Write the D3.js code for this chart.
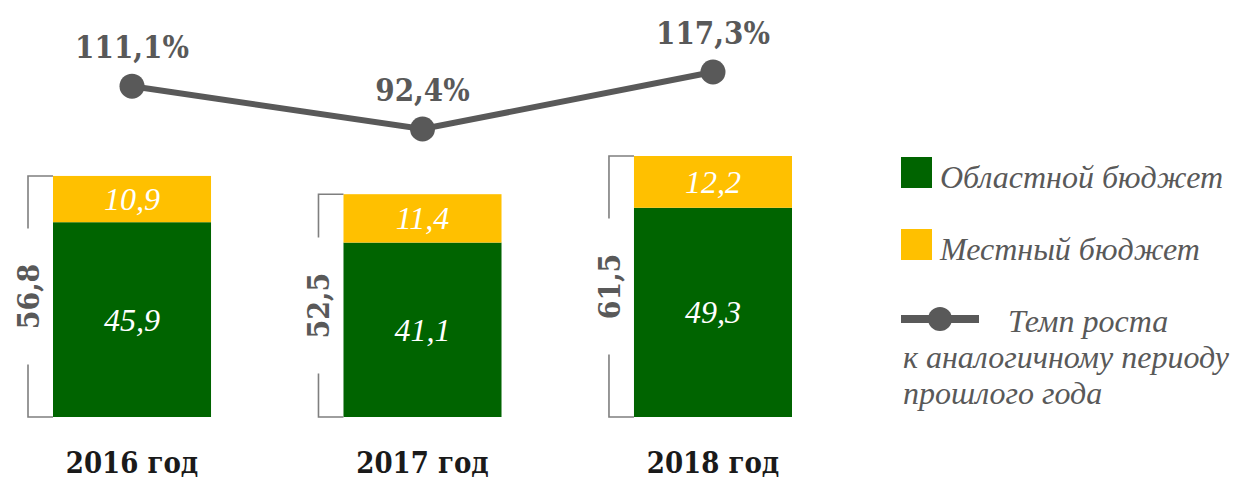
<!DOCTYPE html>
<html>
<head>
<meta charset="utf-8">
<script src="https://cdn.jsdelivr.net/npm/d3@7"></script>
<style>
	body { margin: 0; background: #fff; }
	svg { display: block; }
</style>
</head>
<body>
<div class="container"></div>
<script>

let years = ['2016 год', '2017 год', '2018 год']
let regional = [45.9, 41.1, 49.3]
let local = [10.9, 11.4, 12.2]
let totals = [56.8, 52.5, 61.5]
let growth = [111.1, 92.4, 117.3]
let growthLabels = ['111,1%', '92,4%', '117,3%']
let legendNames = ['Областной бюджет', 'Местный бюджет']
let legendLine = ['Темп роста', 'к аналогичному периоду', 'прошлого года']

let green = '#006400'
let yellow = '#ffc000'
let gray = '#595959'

let fmt = v => String(v).replace('.', ',')

let svg = d3.select('.container')
	.append('svg')
	.attr('width', 1240)
	.attr('height', 480)

let x = d3.scaleBand()
	.domain(years)
	.range([53, 792])
	.paddingInner(0.456)
	.paddingOuter(0)

let y = d3.scaleLinear()
	.domain([0, 61.5])
	.range([417, 156])

let yRate = d3.scaleLinear()
	.domain([92.4, 117.3])
	.range([129, 72])

let bw = x.bandwidth()

// stacked bars
years.forEach(function(yr, i) {
	let x0 = x(yr)
	svg.append('rect')
		.attr('x', x0)
		.attr('y', y(regional[i]))
		.attr('width', bw)
		.attr('height', y(0) - y(regional[i]))
		.style('fill', green)

	svg.append('rect')
		.attr('x', x0)
		.attr('y', y(totals[i]))
		.attr('width', bw)
		.attr('height', y(regional[i]) - y(totals[i]))
		.style('fill', yellow)

	svg.append('text')
		.attr('x', x0 + bw / 2)
		.attr('y', (y(0) + y(regional[i])) / 2 + 11)
		.attr('text-anchor', 'middle')
		.attr('class', 'inbar')
		.text(fmt(regional[i]))

	svg.append('text')
		.attr('x', x0 + bw / 2)
		.attr('y', (y(regional[i]) + y(totals[i])) / 2 + 11)
		.attr('text-anchor', 'middle')
		.attr('class', 'inbar')
		.text(fmt(local[i]))

	// bracket with total
	let bx = x0 - 25
	let top = y(totals[i])
	let bottom = y(0)
	let mid = (top + bottom) / 2
	let gap = 68
	svg.append('path')
		.attr('d', `M${x0},${top}H${bx}V${mid - gap}M${bx},${mid + gap}V${bottom}H${x0}`)
		.style('fill', 'none')
		.style('stroke', '#7f7f7f')
		.style('stroke-width', 1.6)

	svg.append('text')
		.attr('transform', `translate(${bx},${mid}) rotate(-90)`)
		.attr('text-anchor', 'middle')
		.attr('dy', '0.36em')
		.attr('class', 'total')
		.text(fmt(totals[i]))

	svg.append('text')
		.attr('x', x0 + bw / 2)
		.attr('y', 473)
		.attr('text-anchor', 'middle')
		.attr('class', 'year')
		.text(yr)
})

// growth line
let pts = years.map((yr, i) => [x(yr) + bw / 2, yRate(growth[i])])

svg.append('path')
	.attr('d', d3.line()(pts))
	.style('fill', 'none')
	.style('stroke', gray)
	.style('stroke-width', 6)

pts.forEach(function(p, i) {
	svg.append('circle')
		.attr('cx', p[0])
		.attr('cy', p[1])
		.attr('r', 12.5)
		.style('fill', gray)

	svg.append('text')
		.attr('x', p[0])
		.attr('y', p[1] - 28)
		.attr('text-anchor', 'middle')
		.attr('class', 'rate')
		.text(growthLabels[i])
})

// legend
let legColors = [green, yellow]
let legY = [188, 260]
legendNames.forEach(function(name, i) {
	svg.append('rect')
		.attr('x', 901)
		.attr('y', legY[i] - 31)
		.attr('width', 31)
		.attr('height', 31)
		.style('fill', legColors[i])

	svg.append('text')
		.attr('x', 940)
		.attr('y', legY[i])
		.attr('class', 'legend')
		.text(name)
})

svg.append('line')
	.attr('x1', 901)
	.attr('x2', 979)
	.attr('y1', 319)
	.attr('y2', 319)
	.style('stroke', gray)
	.style('stroke-width', 8)

svg.append('circle')
	.attr('cx', 940)
	.attr('cy', 319)
	.attr('r', 12)
	.style('fill', gray)

svg.append('text')
	.attr('x', 1008)
	.attr('y', 332)
	.attr('class', 'legend')
	.text(legendLine[0])

svg.append('text')
	.attr('x', 903)
	.attr('y', 368)
	.attr('class', 'legend')
	.text(legendLine[1])

svg.append('text')
	.attr('x', 903)
	.attr('y', 404)
	.attr('class', 'legend')
	.text(legendLine[2])

d3.selectAll('.inbar')
	.style('fill', '#fff')
	.style('font-family', '"Liberation Serif", serif')
	.style('font-style', 'italic')
	.style('font-size', '32px')

d3.selectAll('.legend')
	.style('fill', gray)
	.style('font-family', '"Liberation Serif", serif')
	.style('font-style', 'italic')
	.style('font-size', '32px')

let boldSerif = '"DejaVu Serif Condensed", "DejaVu Serif", serif'

d3.selectAll('.total')
	.style('fill', gray)
	.style('font-family', boldSerif)
	.style('font-stretch', 'condensed')
	.style('font-weight', 'bold')
	.style('font-size', '30px')

d3.selectAll('.rate')
	.style('fill', gray)
	.style('font-family', boldSerif)
	.style('font-stretch', 'condensed')
	.style('font-weight', 'bold')
	.style('font-size', '31px')

d3.selectAll('.year')
	.style('fill', '#1a1a1a')
	.style('font-family', boldSerif)
	.style('font-stretch', 'condensed')
	.style('font-weight', 'bold')
	.style('font-size', '29px')
</script>
</body>
</html>
